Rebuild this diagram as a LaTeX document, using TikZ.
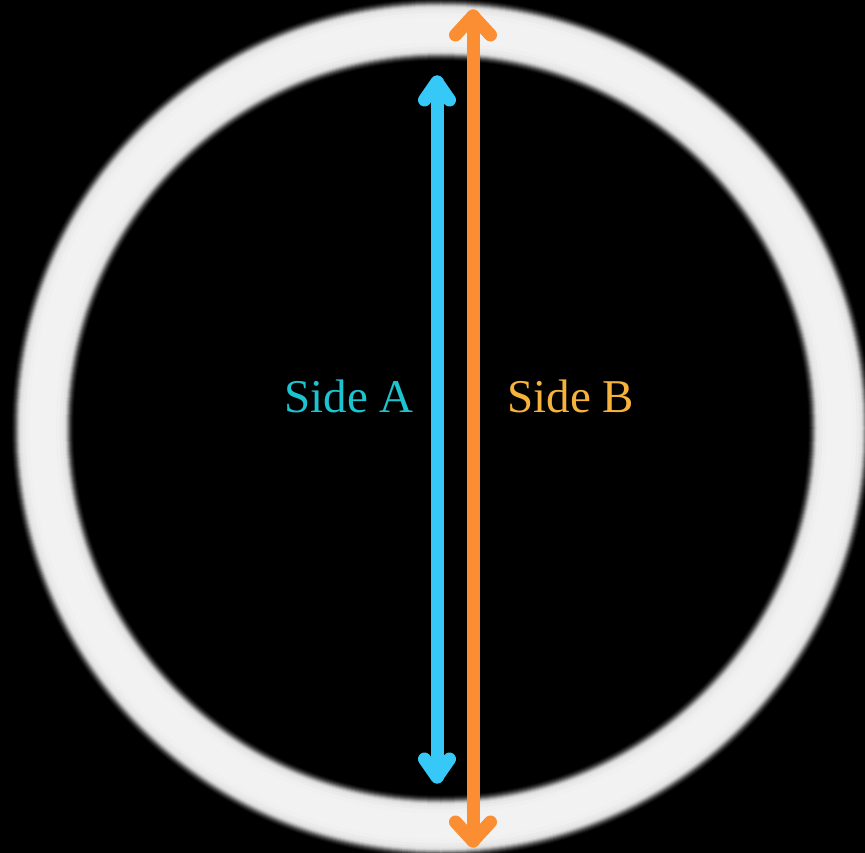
\documentclass[tikz,border=0pt]{standalone}
\usepackage{fontspec}
\setmainfont{Liberation Serif}
\definecolor{sideA}{HTML}{1CC4CF}
\definecolor{sideB}{HTML}{F7B23B}
\definecolor{arrA}{HTML}{36C8F6}
\definecolor{arrB}{HTML}{FB8E32}
\tikzset{
  ringlayer/.style={draw=#1, fill=none},
  shaft/.style={line width=13pt, draw=#1, line cap=round},
  chevron/.style={line width=13pt, draw=#1, line cap=round, line join=round},
  label/.style={font=\fontsize{47}{50}\selectfont, inner sep=0pt, anchor=base}
}
\begin{document}
\begin{tikzpicture}[x=1pt,y=1pt]
\fill[black] (0,0) rectangle (865,-853);
\useasboundingbox (0,0) rectangle (865,-853);
\coordinate (c) at (441,-428);
% ring with soft edges
\foreach \w/\p in {64/0,62/4,60/10,58/18,56/28,54/40,52/54,50/67,48/78,46/86,44/90,40/92,34/94,26/95} {
  \draw[ringlayer=white!\p!black, line width=\w pt] (c) circle[radius=398.5pt];
}
% arrow ends
\coordinate (aTop) at (437,-82);
\coordinate (aBot) at (437,-777);
\coordinate (bTop) at (473,-16);
\coordinate (bBot) at (473,-841);
% Side A arrow
\draw[shaft=arrA] (aBot) -- (aTop);
\draw[chevron=arrA] ([shift={(-12.5,-18)}]aTop) -- (aTop) -- ([shift={(12.5,-18)}]aTop);
\draw[chevron=arrA] ([shift={(-12.5,18)}]aBot) -- (aBot) -- ([shift={(12.5,18)}]aBot);
% Side B arrow
\draw[shaft=arrB] (bBot) -- (bTop);
\draw[chevron=arrB] ([shift={(-17.5,-19)}]bTop) -- (bTop) -- ([shift={(17.5,-19)}]bTop);
\draw[chevron=arrB] ([shift={(-17.5,19)}]bBot) -- (bBot) -- ([shift={(17.5,19)}]bBot);
% labels
\node[label, text=sideA] (lA) at (349,-412) {Side A};
\node[label, text=sideB] (lB) at (571,-412) {Side B};
\end{tikzpicture}
\end{document}
